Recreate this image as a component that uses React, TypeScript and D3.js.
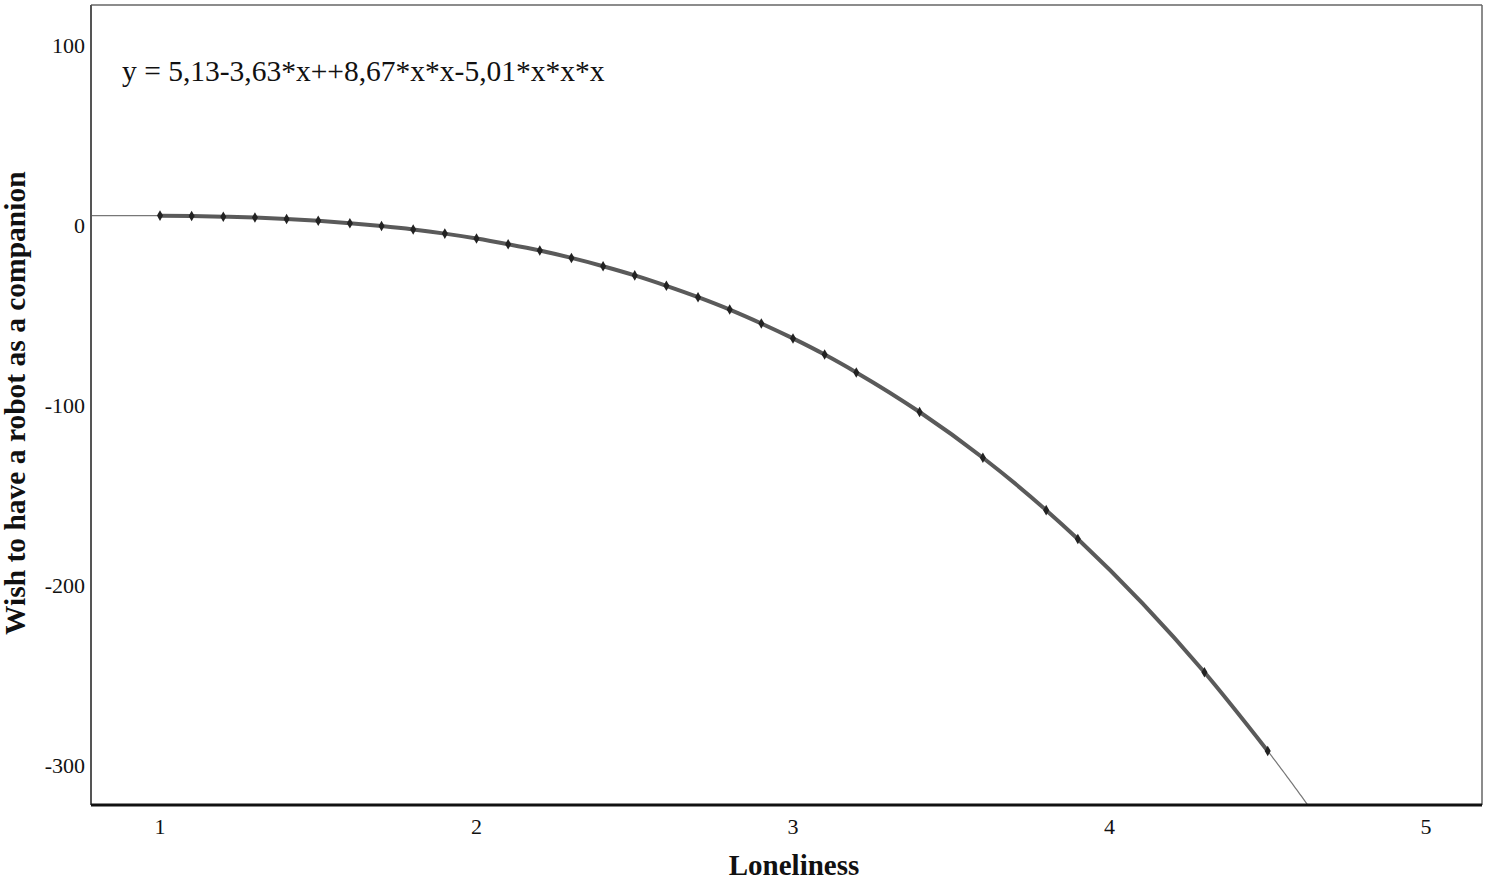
import React from 'react';
import * as d3 from 'd3';

// observed points (Loneliness vs predicted wish)
const lonelinessVals = [1, 1.1, 1.2, 1.3, 1.4, 1.5, 1.6, 1.7, 1.8, 1.9, 2, 2.1, 2.2, 2.3, 2.4, 2.5, 2.6, 2.7, 2.8, 2.9, 3, 3.1, 3.2, 3.4, 3.6, 3.8, 3.9, 4.3, 4.5];
const wishVals = [5.2, 5, 4.6, 4.1, 3.3, 2.3, 1, -0.6, -2.5, -4.8, -7.5, -10.7, -14.2, -18.3, -22.9, -28, -33.8, -40.1, -47, -54.7, -63, -72, -81.9, -103.9, -129.3, -158.4, -174.4, -248.5, -292.2];

// fit coefficients from the equation label (b0, b1, b2, b3)
const fitCoefs = [5.13, -3.63, 8.67, -5.01];
const equationLabel = 'y = 5,13-3,63*x++8,67*x*x-5,01*x*x*x';

const xTicks = [1, 2, 3, 4, 5];
const yTicks = [100, 0, -100, -200, -300];
const xTitle = 'Loneliness';
const yTitle = 'Wish to have a robot as a companion';

const W = 1500, H = 880;
const left = 91, right = 1482, top = 5, bottom = 805;
const font = '"Liberation Serif", "Times New Roman", serif';

export default function App() {
  const x = d3.scaleLinear().domain([0.782, 5.177]).range([left, right]);
  const y = d3.scaleLinear().domain([-322.2, 122.2]).range([bottom, top]);

  const poly = (v: number) => fitCoefs.reduce((s, c, i) => s + c * Math.pow(v, i), 0);
  const [x0, x1] = x.domain();
  const fitPts: [number, number][] = d3.range(x0, x1, 0.005).map(v => [v, poly(v)] as [number, number])
    .filter(p => p[1] >= y.domain()[0] - 5);

  const line = d3.line<[number, number]>().x(d => x(d[0])).y(d => y(d[1]));
  const pts: [number, number][] = lonelinessVals.map((v, i) => [v, wishVals[i]]);
  const smooth = d3.line<[number, number]>().x(d => x(d[0])).y(d => y(d[1])).curve(d3.curveMonotoneX);

  return (
    <svg width={W} height={H} style={{ position: 'absolute', left: 0, top: 0, background: '#fff' }} fontFamily={font}>
      <defs>
        <clipPath id="plot">
          <rect x={left} y={top} width={right - left} height={bottom - top} />
        </clipPath>
      </defs>
      <g clipPath="url(#plot)">
        <path d={line(fitPts) || ''} fill="none" stroke="#777" strokeWidth={1.2} />
        <path d={smooth(pts) || ''} fill="none" stroke="#5a5a5a" strokeWidth={4} />
        {pts.map((p, i) => (
          <path key={i} d={d3.symbol(d3.symbolDiamond, 32)() || ''}
            transform={`translate(${x(p[0])},${y(p[1])})`} fill="#222" />
        ))}
      </g>
      {/* frame */}
      <line x1={left} x2={right} y1={top} y2={top} stroke="#666" strokeWidth={1.5} />
      <line x1={right} x2={right} y1={top} y2={bottom} stroke="#666" strokeWidth={1.5} />
      <line x1={left} x2={left} y1={top} y2={bottom} stroke="#555" strokeWidth={2} />
      <line x1={left} x2={right} y1={bottom} y2={bottom} stroke="#111" strokeWidth={3} />

      {yTicks.map(t => (
        <text key={t} x={85} y={y(t)} dy="0.35em" textAnchor="end" fontSize={22} fill="#111">{t}</text>
      ))}
      {xTicks.map(t => (
        <text key={t} x={x(t)} y={834} textAnchor="middle" fontSize={22} fill="#111">{t}</text>
      ))}
      <text x={794} y={875} textAnchor="middle" fontSize={29} fontWeight="bold" fill="#111">{xTitle}</text>
      <text transform={`translate(25,${y(-99)}) rotate(-90)`} textAnchor="middle" fontSize={29.5} fontWeight="bold" fill="#111">{yTitle}</text>
      <text x={122} y={81} fontSize={29.5} fill="#111">{equationLabel}</text>
    </svg>
  );
}
